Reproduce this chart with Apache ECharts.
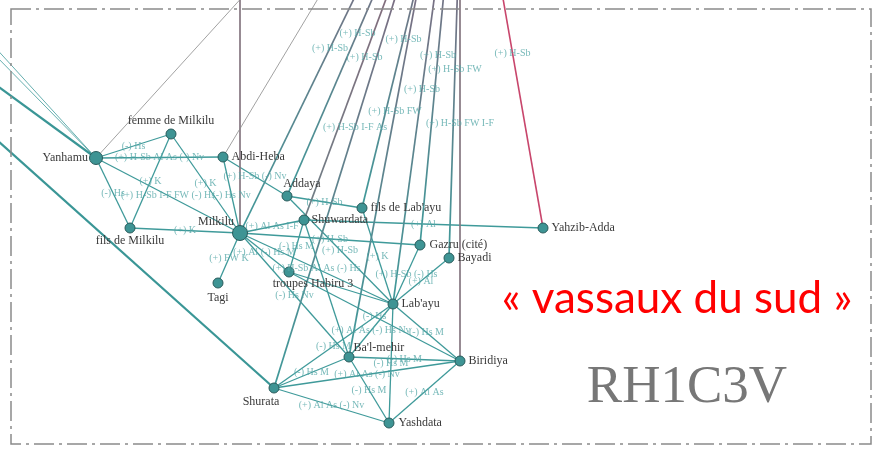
<!DOCTYPE html>
<html><head><meta charset="utf-8">
<script src="https://cdn.jsdelivr.net/npm/echarts@6/dist/echarts.min.js"></script>
<style>html,body{margin:0;padding:0;background:#fff}#c{width:872px;height:455px}</style>
</head><body><div id="c"></div>
<script>
// ---- DATA ----
const nodeNames = ["Yanhamu","femme de Milkilu","Abdi-Heba","fils de Milkilu","Milkilu","Tagi","Addaya","Shuwardata","fils de Lab'ayu","troupes Habiru 3","Gazru (cité)","Bayadi","Yahzib-Adda","Lab'ayu","Ba'l-mehir","Biridiya","Shurata","Yashdata"];
const nodeX = [96,171,223,130,240,218,287,304,362,289,420,449,543,393,349,460,274,389];
const nodeY = [158,134,157,228,233,283,196,220,208,272,245,258,228,304,357,361,388,423];
// correspondents lying outside the frame (only their links are visible)
const outNames = ["o1","o2","o3","o4","o5","o6","o7","o8","o9","o10","o11","o12","o13","o14","o15","o16","o17","o18"];
const outX = [420,428,425,436,445,441,451,456,461,460,482,240,276,340,-100,-60,-60,-60];
const outY = [-137,-130,-106,-134,-130,-135,-126,-135,-120,-115,-122,-130,-40,-38,15,-13,-1,89];

const edgeSource = ["Yanhamu","Yanhamu","Yanhamu","Yanhamu","femme de Milkilu","femme de Milkilu","fils de Milkilu","Abdi-Heba","Abdi-Heba","Milkilu","Milkilu","Milkilu","Milkilu","Milkilu","Milkilu","Addaya","Addaya","Shuwardata","Shuwardata","Shuwardata","fils de Lab'ayu","Gazru (cité)","Bayadi","troupes Habiru 3","troupes Habiru 3","Lab'ayu","Lab'ayu","Lab'ayu","Lab'ayu","Ba'l-mehir","Ba'l-mehir","Ba'l-mehir","Shurata","Shurata","Biridiya",
  "Milkilu","Addaya","Shuwardata","Shurata","fils de Lab'ayu","Ba'l-mehir","Lab'ayu","Gazru (cité)","Bayadi","Biridiya","Yahzib-Adda","Milkilu","Yanhamu","Abdi-Heba","Yanhamu","Yanhamu","Yanhamu","Shurata"];
const edgeTarget = ["femme de Milkilu","Abdi-Heba","fils de Milkilu","Milkilu","fils de Milkilu","Milkilu","Milkilu","Milkilu","Addaya","Shuwardata","Gazru (cité)","troupes Habiru 3","Lab'ayu","Tagi","Ba'l-mehir","fils de Lab'ayu","Lab'ayu","Yahzib-Adda","troupes Habiru 3","Ba'l-mehir","Lab'ayu","Lab'ayu","Lab'ayu","Lab'ayu","Biridiya","Ba'l-mehir","Biridiya","Shurata","Yashdata","Biridiya","Shurata","Yashdata","Biridiya","Yashdata","Yashdata",
  "o1","o2","o3","o4","o5","o6","o7","o8","o9","o10","o11","o12","o13","o14","o15","o16","o17","o18"];
const edgeLabels = ["(-) Hs","(+) H-Sb Al As (-) Nv","(-) Hs","(+) H-Sb I-F FW (-) Hs","(+) K","(+) K","(+) K","(-) Hs Nv","(+) H-Sb (-) Nv","(+) Al As I-F","(+) H-Sb","(+) Al (-) Hs M","(+) H-Sb Al As (-) Hs","(+) FW K","(-) Hs Nv","(+) H-Sb","(+) H-Sb","(+) Al","(-) Hs M","","(+) K","(+) H-Sb (-) Hs","(+) Al","","(-) Hs","(+) Al As (-) Hs Nv","(-) Hs M","(-) Hs M","(-) Hs M","(-) Hs M","(-) Hs M","(-) Hs M","(+) Al As (-) Nv","(+) Al As (-) Nv","(+) Al As",
  "(+) H-Sb","(+) H-Sb","(+) H-Sb","(+) H-Sb I-F As","(+) H-Sb","(+) H-Sb FW","(+) H-Sb","(+) H-Sb","(+) H-Sb FW","(+) H-Sb FW I-F","(+) H-Sb","","","","","","",""];
const caption = "« vassaux du sud »";
const code = "RH1C3V";

// ---- STYLES ----
const TEAL = '#3f9a9a';
const edgeKind = new Array(35).fill('n').concat(['top','top','topg','top','top','top','top','top','top','gray','red','gray','thin','thin','thick','thinT','thinT','thick']);
const grad = (a,b)=>new echarts.graphic.LinearGradient(0,0,0,1,[{offset:0,color:a},{offset:1,color:b}]);
function styleOf(k){
  switch(k){
    case 'n': return {color:TEAL,width:1.3,opacity:1};
    case 'top': return {color:grad('#8e5f7a',TEAL),width:1.7,opacity:1};
    case 'topg': return {color:grad('#8a6478','#6f7f86'),width:1.7,opacity:1};
    case 'gray': return {color:'#857680',width:1.7,opacity:1};
    case 'red': return {color:'#c8466c',width:1.6,opacity:1};
    case 'thin': return {color:'#8a8a8a',width:0.8,opacity:1};
    case 'thinT': return {color:TEAL,width:0.8,opacity:1};
    case 'thick': return {color:'#3a9696',width:2.2,opacity:1};
  }
}
const bigNodes = {"Yanhamu":13,"Milkilu":15};
const labelPlace = {
  "Yanhamu":{position:'left',distance:1},
  "femme de Milkilu":{position:'top',distance:2},
  "Abdi-Heba":{position:'right',distance:3},
  "fils de Milkilu":{position:'bottom',distance:1},
  "Milkilu":{position:'left',distance:-2,offset:[0,-11]},
  "Tagi":{position:'bottom',distance:3},
  "Addaya":{position:'top',distance:1,offset:[15,0]},
  "Shuwardata":{position:'right',distance:2},
  "fils de Lab'ayu":{position:'right',distance:3},
  "troupes Habiru 3":{position:'bottom',distance:0,offset:[24,0]},
  "Gazru (cité)":{position:'right',distance:4},
  "Bayadi":{position:'right',distance:3},
  "Yahzib-Adda":{position:'right',distance:3},
  "Lab'ayu":{position:'right',distance:3},
  "Ba'l-mehir":{position:'right',distance:1,offset:[-2,-9]},
  "Biridiya":{position:'right',distance:3},
  "Shurata":{position:'bottom',distance:2,offset:[-13,0]},
  "Yashdata":{position:'right',distance:4}
};

// ---- BUILD ----
const pos = {};
nodeNames.forEach((n,i)=>pos[n]=[nodeX[i],nodeY[i]]);
outNames.forEach((n,i)=>pos[n]=[outX[i],outY[i]]);

const graphNodes = nodeNames.map((n,i)=>({
  name:n, value:[nodeX[i],nodeY[i]],
  symbolSize: bigNodes[n]||10,
  label: Object.assign({show:true}, labelPlace[n])
})).concat(outNames.map((n,i)=>({
  name:n, value:[outX[i],outY[i]], symbolSize:0, label:{show:false}, itemStyle:{opacity:0}
})));

const graphLinks = edgeSource.map((s,i)=>({source:s,target:edgeTarget[i],lineStyle:styleOf(edgeKind[i])}));

const labelPoints = [];
edgeSource.forEach((s,i)=>{
  if(!edgeLabels[i]) return;
  const a=pos[s], b=pos[edgeTarget[i]];
  labelPoints.push({name:edgeLabels[i], value:[(a[0]+b[0])/2,(a[1]+b[1])/2]});
});

const chart = echarts.init(document.getElementById('c'),null,{renderer:'canvas'});
chart.setOption({
  animation:false,
  backgroundColor:'#ffffff',
  grid:{left:0,right:0,top:0,bottom:0},
  xAxis:{type:'value',min:0,max:872,show:false},
  yAxis:{type:'value',min:0,max:455,inverse:true,show:false},
  series:[
    {
      type:'graph', coordinateSystem:'cartesian2d', layout:'none', silent:true, z:2,
      data:graphNodes, links:graphLinks,
      itemStyle:{color:'#3e9494',borderColor:'#2a5c5c',borderWidth:1},
      label:{color:'#3a3a3a',fontFamily:'Liberation Serif',fontSize:12},
      lineStyle:{curveness:0},
      emphasis:{disabled:true}
    },
    {
      type:'scatter', silent:true, z:3, clip:false,
      symbol:'circle', symbolSize:1, itemStyle:{color:'rgba(0,0,0,0)'},
      data:labelPoints,
      label:{show:true,position:'inside',formatter:p=>p.name,color:'#55a7a7',fontFamily:'Liberation Serif',fontSize:10},
      emphasis:{disabled:true}
    }
  ],
  graphic:[
    {type:'rect',z:10,silent:true,shape:{x:11,y:9,width:860,height:435},style:{fill:null,stroke:'#8a8a8a',lineWidth:1.5,lineDash:[20,5,3,5]}},
    {type:'text',z:10,silent:true,style:{x:677,y:299,text:caption,fill:'#ff0000',font:'44px Lato',align:'center',verticalAlign:'middle'}},
    {type:'text',z:10,silent:true,style:{x:687,y:388,text:code,fill:'#777777',font:'53px "Liberation Serif"',align:'center',verticalAlign:'middle'}}
  ]
});
</script></body></html>
